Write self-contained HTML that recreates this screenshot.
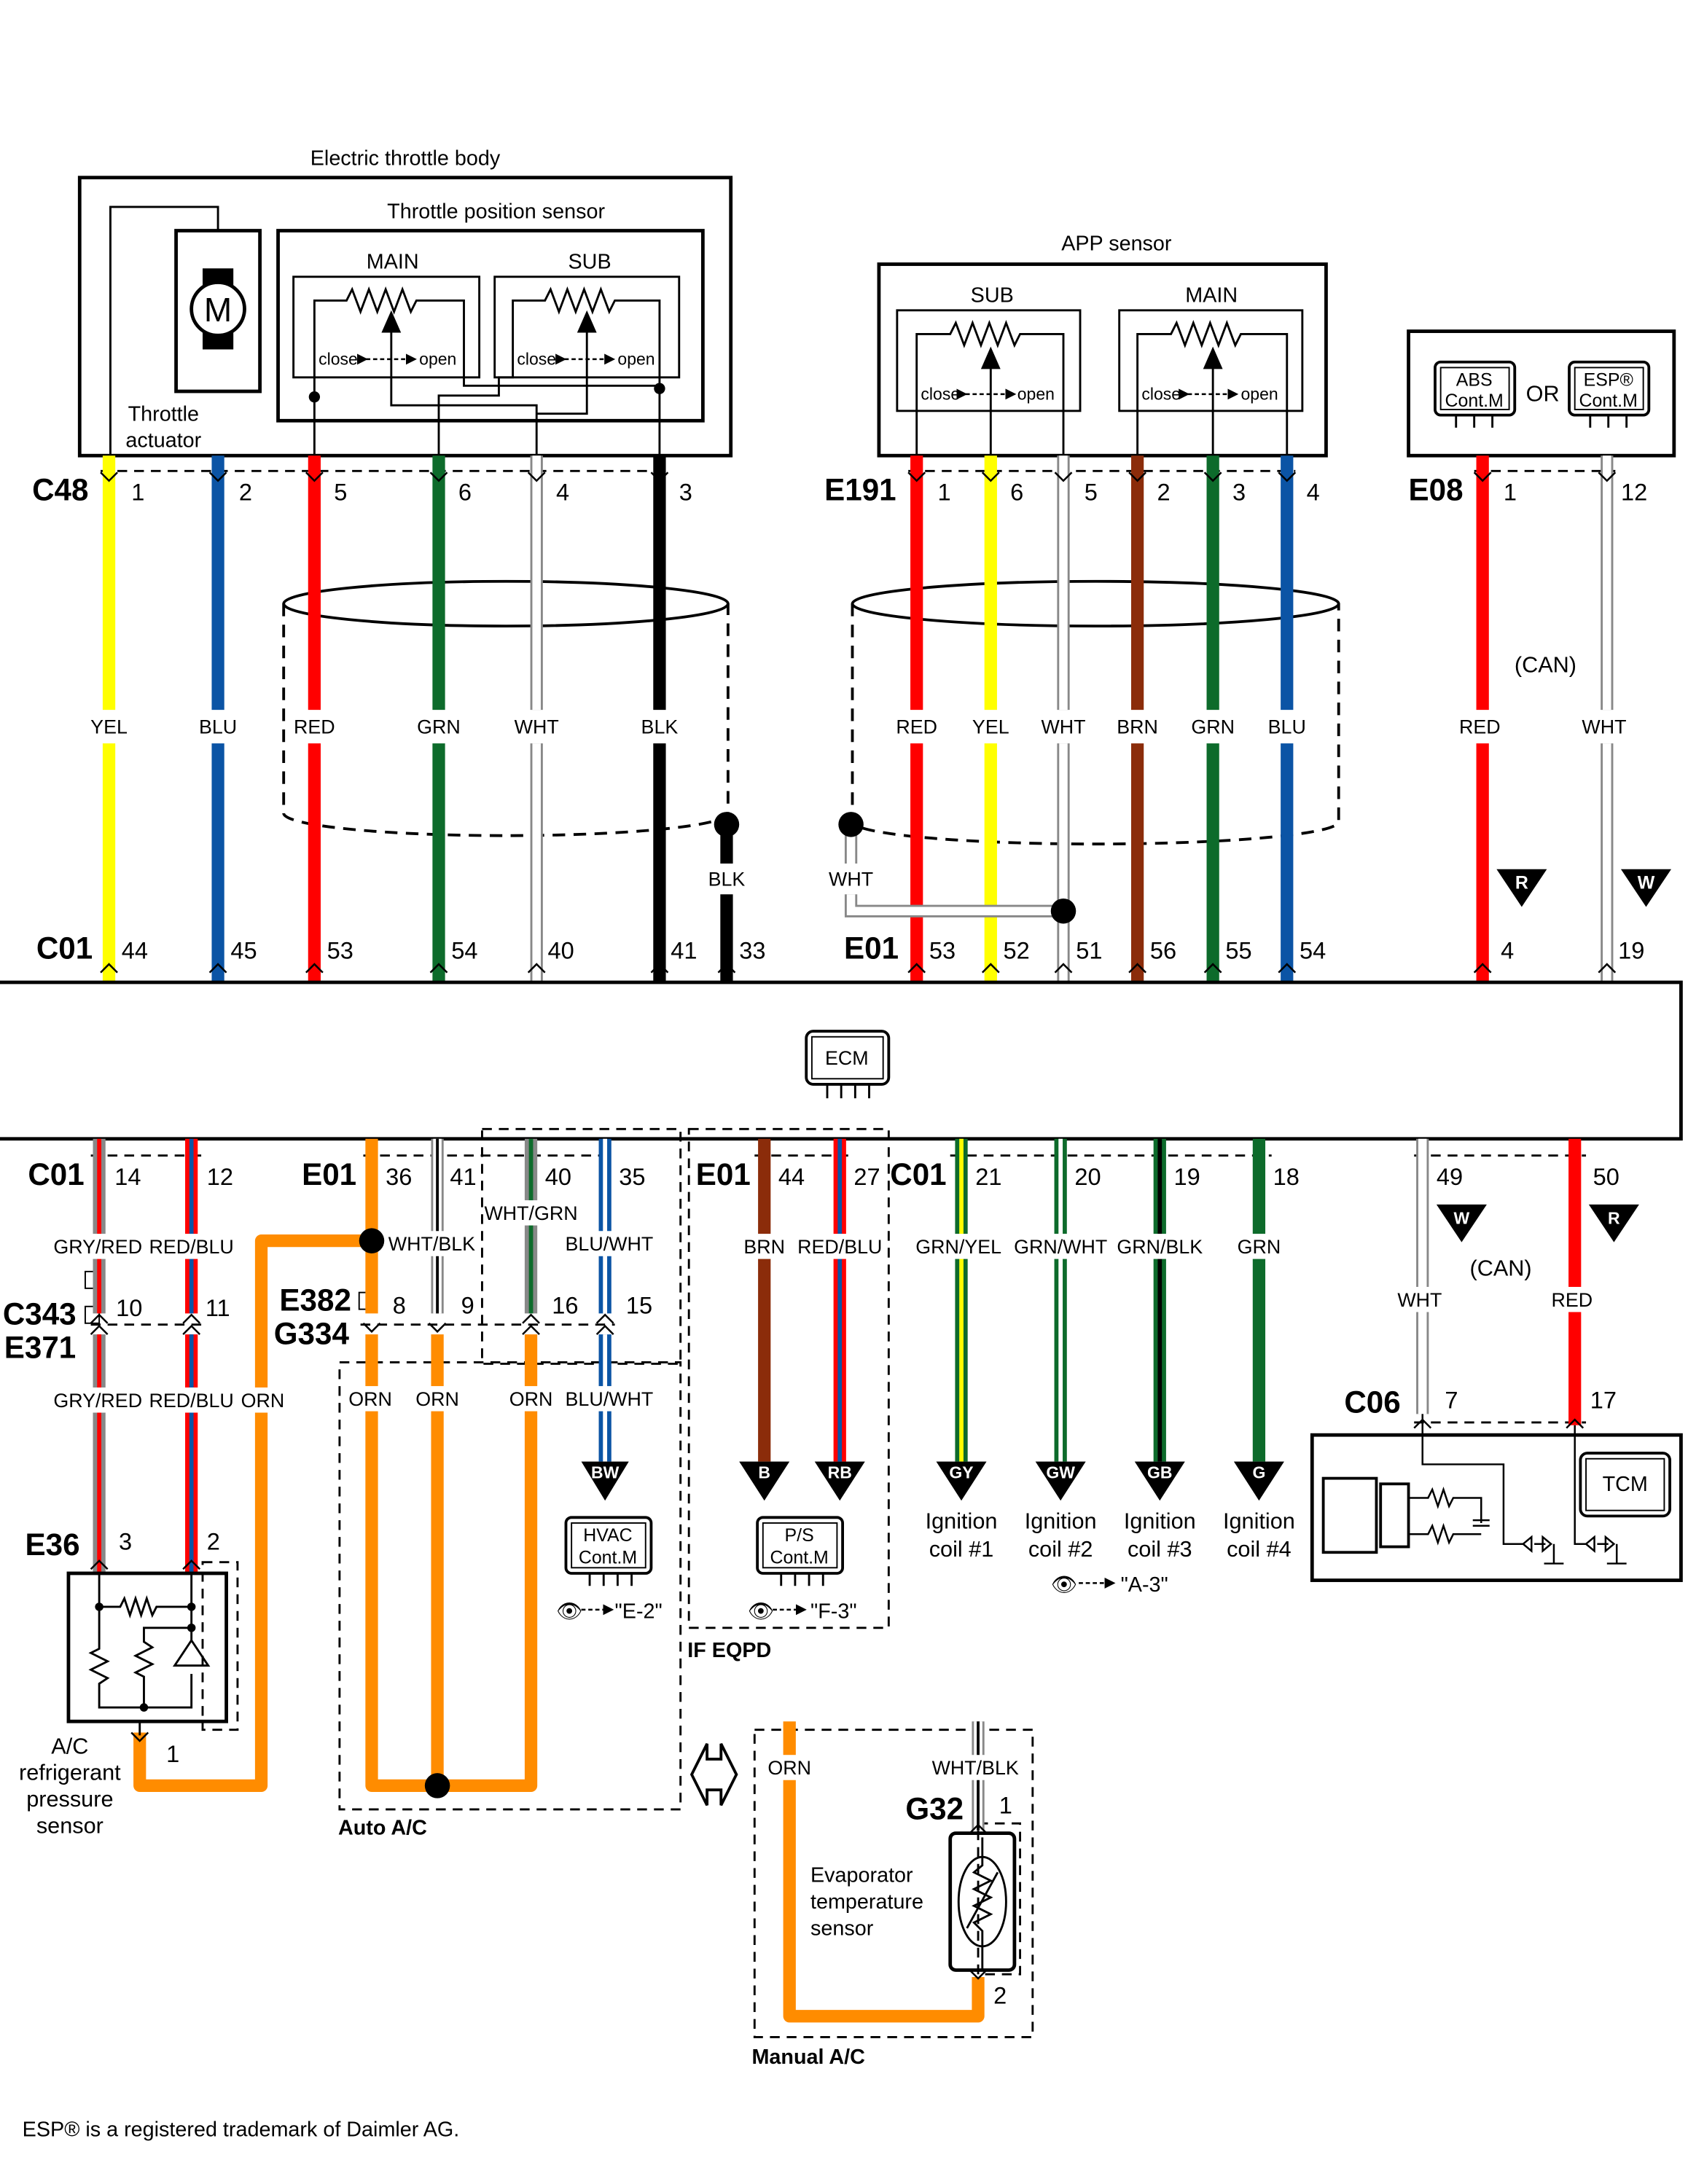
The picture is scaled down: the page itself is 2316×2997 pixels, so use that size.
<!DOCTYPE html>
<html><head><meta charset="utf-8"><style>
html,body{margin:0;padding:0;background:#fff}
svg{display:block}
text{font-family:"Liberation Sans",Arial,sans-serif;fill:#000}
</style></head><body>
<svg width="2316" height="2997" viewBox="0 0 1208 1563" xmlns="http://www.w3.org/2000/svg">
<defs>
<marker id="ah" markerWidth="6" markerHeight="6" refX="5" refY="3" orient="auto"><path d="M0,0 L6,3 L0,6z" fill="#000"/></marker>
</defs>
<g font-size="15">
<text x="290" y="118" text-anchor="middle">Electric throttle body</text>
<rect x="57" y="127" width="466" height="199" fill="none" stroke="#000" stroke-width="2.5"/>
<rect x="126" y="165" width="60" height="115" fill="none" stroke="#000" stroke-width="2.5"/>
<rect x="145" y="192" width="22" height="58" fill="#000"/>
<circle cx="156" cy="221" r="19" fill="#fff" stroke="#000" stroke-width="2.5"/>
<text x="156" y="230" font-size="24" text-anchor="middle">M</text>
<polyline points="156,165 156,148 79,148 79,326" fill="none" stroke="#000" stroke-width="1.5"/>
<text x="117" y="301" text-anchor="middle">Throttle</text>
<text x="117" y="320" text-anchor="middle">actuator</text>
<rect x="199" y="165" width="304" height="136" fill="none" stroke="#000" stroke-width="2.5"/>
<text x="355" y="156" text-anchor="middle">Throttle position sensor</text>
<text x="281" y="192" text-anchor="middle">MAIN</text>
<text x="422" y="192" text-anchor="middle">SUB</text>
<rect x="210" y="198" width="133" height="72" fill="none" stroke="#000" stroke-width="1.5"/>
<rect x="354" y="198" width="132" height="72" fill="none" stroke="#000" stroke-width="1.5"/>
<g fill="none" stroke="#000" stroke-width="1.5">
<polyline points="225,283 225,215 248,215 252,207 258,223 264,207 270,223 276,207 282,223 288,207 294,223 298,215 332,215 332,276 472,276"/>
<polyline points="367,226 367,215 390,215 394,207 400,223 406,207 412,223 418,207 424,223 430,207 436,223 440,215 472,215 472,278"/>
<polyline points="280,238 280,290 384,290 384,326"/>
<polyline points="420,238 420,296 384,296"/>
<polyline points="225,283 225,326"/><polyline points="472,278 472,326"/>
<polyline points="314,326 314,283 357,283 357,270 367,270 367,226"/>
</g>
<path d="M280,222 l-7,16 h14z M420,222 l-7,16 h14z" fill="#000"/>
<circle cx="225" cy="284" r="4" fill="#000"/><circle cx="472" cy="278" r="4" fill="#000"/>
<g font-size="12"><text x="228" y="261">close</text><text x="300" y="261">open</text>
<text x="370" y="261">close</text><text x="442" y="261">open</text></g>
<g stroke="#000" stroke-width="1.3" stroke-dasharray="3,2"><line x1="262" y1="257" x2="297" y2="257" marker-start="url(#ah)" marker-end="url(#ah)"/><line x1="404" y1="257" x2="439" y2="257" marker-start="url(#ah)" marker-end="url(#ah)"/></g>

<text x="799" y="179" text-anchor="middle">APP sensor</text>
<rect x="629" y="189" width="320" height="137" fill="none" stroke="#000" stroke-width="2.5"/>
<text x="710" y="216" text-anchor="middle">SUB</text>
<text x="867" y="216" text-anchor="middle">MAIN</text>
<rect x="642" y="222" width="131" height="72" fill="none" stroke="#000" stroke-width="1.5"/>
<rect x="801" y="222" width="131" height="72" fill="none" stroke="#000" stroke-width="1.5"/>
<g fill="none" stroke="#000" stroke-width="1.5">
<polyline points="656,326 656,239 680,239 684,231 690,247 696,231 702,247 708,231 714,247 720,231 726,247 730,239 761,239 761,326"/>
<polyline points="814,326 814,239 838,239 842,231 848,247 854,231 860,247 866,231 872,247 878,231 884,247 888,239 921,239 921,326"/>
<line x1="709" y1="262" x2="709" y2="326"/><line x1="868" y1="262" x2="868" y2="326"/>
</g>
<path d="M709,248 l-7,16 h14z M868,248 l-7,16 h14z" fill="#000"/>
<g font-size="12"><text x="659" y="286">close</text><text x="728" y="286">open</text>
<text x="817" y="286">close</text><text x="888" y="286">open</text></g>
<g stroke="#000" stroke-width="1.3" stroke-dasharray="3,2"><line x1="691" y1="282" x2="726" y2="282" marker-start="url(#ah)" marker-end="url(#ah)"/><line x1="850" y1="282" x2="885" y2="282" marker-start="url(#ah)" marker-end="url(#ah)"/></g>

<rect x="1008" y="237" width="190" height="89" fill="none" stroke="#000" stroke-width="2.5"/>
<rect x="1027" y="259" width="57" height="38" rx="4" fill="#fff" stroke="#000" stroke-width="2"/>
<rect x="1031" y="263" width="49" height="30" fill="none" stroke="#000" stroke-width="1"/>
<text x="1055" y="276" font-size="13" text-anchor="middle">ABS</text><text x="1055" y="291" font-size="13" text-anchor="middle">Cont.M</text>
<rect x="1123" y="259" width="57" height="38" rx="4" fill="#fff" stroke="#000" stroke-width="2"/>
<rect x="1127" y="263" width="49" height="30" fill="none" stroke="#000" stroke-width="1"/>
<text x="1151" y="276" font-size="13" text-anchor="middle">ESP®</text><text x="1151" y="291" font-size="13" text-anchor="middle">Cont.M</text>
<text x="1104" y="287" font-size="16" text-anchor="middle">OR</text>
<g stroke="#000" stroke-width="1.5"><line x1="1042" y1="297" x2="1042" y2="306"/><line x1="1055" y1="297" x2="1055" y2="306"/><line x1="1068" y1="297" x2="1068" y2="306"/><line x1="1138" y1="297" x2="1138" y2="306"/><line x1="1151" y1="297" x2="1151" y2="306"/><line x1="1164" y1="297" x2="1164" y2="306"/></g>

<g fill="none" stroke="#000" stroke-width="1.5" stroke-dasharray="7,5">
<line x1="72" y1="337" x2="480" y2="337"/><line x1="650" y1="337" x2="927" y2="337"/><line x1="1055" y1="337" x2="1156" y2="337"/>
</g>
<g font-size="22" font-weight="bold"><text x="23" y="358">C48</text><text x="590" y="358">E191</text><text x="1008" y="358">E08</text></g>
<g font-size="17">
<text x="94" y="358">1</text><text x="171" y="358">2</text><text x="239" y="358">5</text><text x="328" y="358">6</text><text x="398" y="358">4</text><text x="486" y="358">3</text>
<text x="671" y="358">1</text><text x="723" y="358">6</text><text x="776" y="358">5</text><text x="828" y="358">2</text><text x="882" y="358">3</text><text x="935" y="358">4</text>
<text x="1076" y="358">1</text><text x="1160" y="358">12</text>
</g>

<g fill="none" stroke="#000" stroke-width="2">
<ellipse cx="362" cy="432" rx="159" ry="16"/>
<path d="M203,432 V582 A159,16 0 0 0 521,582 V432" stroke-dasharray="9,6"/>
<ellipse cx="784" cy="432" rx="174" ry="16"/>
<path d="M610,432 V588 A174,16 0 0 0 958,588 V432" stroke-dasharray="9,6"/>
</g>

<g stroke-width="9" fill="none">
<path d="M78,326 V508 M78,532 V703" stroke="#ffff00"/>
<path d="M156,326 V508 M156,532 V703" stroke="#0b54a5"/>
<path d="M225,326 V508 M225,532 V703" stroke="#ff0000"/>
<path d="M314,326 V508 M314,532 V703" stroke="#0d6b2b"/>
<path d="M472,326 V508 M472,532 V703" stroke="#000"/>
<path d="M520,590 V618 M520,640 V703" stroke="#000"/>
<path d="M656,326 V508 M656,532 V703" stroke="#ff0000"/>
<path d="M709,326 V508 M709,532 V703" stroke="#ffff00"/>
<path d="M814,326 V508 M814,532 V703" stroke="#8b2c0a"/>
<path d="M868,326 V508 M868,532 V703" stroke="#0d6b2b"/>
<path d="M921,326 V508 M921,532 V703" stroke="#0b54a5"/>
<path d="M1061,326 V508 M1061,532 V703" stroke="#ff0000"/>
<path d="M384,326 V508 M384,532 V703 M761,326 V508 M761,532 V703 M1150,326 V508 M1150,532 V703" stroke="#888"/>
<path d="M609,590 V618 M609,640 V652 H761" stroke="#888"/>
</g>
<g stroke-width="6" fill="none" stroke="#fff">
<path d="M384,326 V508 M384,532 V703 M761,326 V508 M761,532 V703 M1150,326 V508 M1150,532 V703"/>
<path d="M609,590 V618 M609,640 V652 H761"/>
</g>
<circle cx="520" cy="590" r="9" fill="#000"/><circle cx="609" cy="590" r="9" fill="#000"/><circle cx="761" cy="652" r="9" fill="#000"/>
<g font-size="14" text-anchor="middle">
<text x="78" y="525">YEL</text><text x="156" y="525">BLU</text><text x="225" y="525">RED</text><text x="314" y="525">GRN</text><text x="384" y="525">WHT</text><text x="472" y="525">BLK</text>
<text x="656" y="525">RED</text><text x="709" y="525">YEL</text><text x="761" y="525">WHT</text><text x="814" y="525">BRN</text><text x="868" y="525">GRN</text><text x="921" y="525">BLU</text>
<text x="1059" y="525">RED</text><text x="1148" y="525">WHT</text>
<text x="520" y="634">BLK</text><text x="609" y="634">WHT</text>
<text x="1106" y="481" font-size="16">(CAN)</text>
</g>
<path d="M1071,622 h36 l-18,27z M1160,622 h36 l-18,27z" fill="#000"/>
<text x="1089" y="636" font-size="13" font-weight="bold" text-anchor="middle" style="fill:#fff">R</text>
<text x="1178" y="636" font-size="13" font-weight="bold" text-anchor="middle" style="fill:#fff">W</text>

<g font-size="22" font-weight="bold"><text x="26" y="686">C01</text><text x="604" y="686">E01</text></g>
<g font-size="17">
<text x="87" y="686">44</text><text x="165" y="686">45</text><text x="234" y="686">53</text><text x="323" y="686">54</text><text x="392" y="686">40</text><text x="480" y="686">41</text><text x="529" y="686">33</text>
<text x="665" y="686">53</text><text x="718" y="686">52</text><text x="770" y="686">51</text><text x="823" y="686">56</text><text x="877" y="686">55</text><text x="930" y="686">54</text>
<text x="1074" y="686">4</text><text x="1158" y="686">19</text>
</g>

<polyline points="0,703 1203,703 1203,815 0,815" fill="none" stroke="#000" stroke-width="2.5"/>
<rect x="577" y="738" width="59" height="38" rx="5" fill="#fff" stroke="#000" stroke-width="2"/>
<rect x="581" y="742" width="51" height="30" fill="none" stroke="#000" stroke-width="1"/>
<text x="606" y="762" font-size="14" text-anchor="middle">ECM</text>
<g stroke="#000" stroke-width="1.5"><line x1="592" y1="776" x2="592" y2="786"/><line x1="602" y1="776" x2="602" y2="786"/><line x1="612" y1="776" x2="612" y2="786"/><line x1="622" y1="776" x2="622" y2="786"/></g>

<g fill="none" stroke="#000" stroke-width="1.5" stroke-dasharray="7,5">
<line x1="65" y1="827" x2="145" y2="827"/><line x1="260" y1="827" x2="440" y2="827"/><line x1="540" y1="827" x2="608" y2="827"/>
<line x1="680" y1="827" x2="910" y2="827"/><line x1="1012" y1="827" x2="1135" y2="827"/>
<line x1="65" y1="948" x2="145" y2="948"/><line x1="258" y1="948" x2="440" y2="948"/>
<rect x="345" y="808" width="142" height="168"/>
<rect x="243" y="975" width="244" height="320"/>
<rect x="493" y="808" width="143" height="357"/>
<rect x="540" y="1238" width="199" height="220"/>
<line x1="1012" y1="1018" x2="1135" y2="1018"/>
<rect x="145" y="1118" width="25" height="120"/>
<rect x="700" y="1305" width="30" height="108"/>
</g>
<g font-size="22" font-weight="bold">
<text x="20" y="848">C01</text><text x="216" y="848">E01</text><text x="498" y="848">E01</text><text x="637" y="848">C01</text>
<text x="2" y="948">C343</text><text x="3" y="972">E371</text><text x="200" y="938">E382</text><text x="196" y="962">G334</text>
<text x="18" y="1113">E36</text><text x="962" y="1011">C06</text><text x="648" y="1302">G32</text>
</g>
<g font-size="17">
<text x="82" y="848">14</text><text x="148" y="848">12</text><text x="276" y="848">36</text><text x="322" y="848">41</text><text x="390" y="848">40</text><text x="443" y="848">35</text>
<text x="557" y="848">44</text><text x="611" y="848">27</text><text x="698" y="848">21</text><text x="769" y="848">20</text><text x="840" y="848">19</text><text x="911" y="848">18</text>
<text x="1028" y="848">49</text><text x="1140" y="848">50</text>
<text x="83" y="942">10</text><text x="147" y="942">11</text><text x="281" y="940">8</text><text x="330" y="940">9</text><text x="395" y="940">16</text><text x="448" y="940">15</text>
<text x="85" y="1109">3</text><text x="148" y="1109">2</text><text x="119" y="1261">1</text>
<text x="1034" y="1008">7</text><text x="1138" y="1008">17</text><text x="715" y="1298">1</text><text x="711" y="1434">2</text>
</g>
<rect x="61" y="910" width="10" height="12" fill="#fff" stroke="#000"/><rect x="61" y="935" width="10" height="12" fill="#fff" stroke="#000"/>
<rect x="257" y="925" width="10" height="12" fill="#fff" stroke="#000"/>

<g fill="none" stroke-width="9">
<path d="M71,815 V940 M71,955 V1126" stroke="#888"/>
<path d="M137,815 V940 M137,955 V1126" stroke="#ff0000"/>
<path d="M433,815 V940 M433,955 V1046" stroke="#0b54a5"/>
<path d="M547,815 V1046" stroke="#8b2c0a"/>
<path d="M601,815 V1046" stroke="#ff0000"/>
<path d="M688,815 V1046 M759,815 V1046 M830,815 V1046 M901,815 V1046" stroke="#0d6b2b"/>
<path d="M1127,815 V1020" stroke="#ff0000"/>
<path d="M1018,815 V1012 M313,815 V940 M380,815 V940 M700,1232 V1310" stroke="#888"/>
</g>
<g fill="none" stroke-width="9" stroke="#ff8c00" stroke-linejoin="round">
<path d="M100,1240 V1278 H187 V888 H266"/>
<path d="M266,815 V940 M266,955 V1278 H380 V955"/>
<path d="M313,955 V1278"/>
<path d="M565,1232 V1443 H700 V1415"/>
</g>
<g fill="none" stroke-width="3">
<path d="M71,815 V940 M71,955 V1126" stroke="#ff0000"/>
<path d="M137,815 V940 M137,955 V1126" stroke="#0b54a5"/>
<path d="M433,815 V940 M433,955 V1046" stroke="#fff"/>
<path d="M601,815 V1046" stroke="#0b54a5"/>
<path d="M688,815 V1046" stroke="#ffff00"/>
<path d="M759,815 V1046" stroke="#fff"/>
<path d="M830,815 V1046" stroke="#000"/>
<path d="M380,815 V940" stroke="#0d6b2b"/>
</g>
<g fill="none" stroke-width="6" stroke="#fff"><path d="M1018,815 V1012 M313,815 V940 M700,1232 V1310"/></g>
<g fill="none" stroke-width="2" stroke="#000"><path d="M313,815 V940 M700,1232 V1310"/></g>
<circle cx="266" cy="888" r="9" fill="#000"/><circle cx="313" cy="1278" r="9" fill="#000"/>

<!-- white label backgrounds -->
<g fill="#fff">
<rect x="40" y="883" width="60" height="18"/><rect x="107" y="883" width="60" height="18"/>
<rect x="280" y="881" width="60" height="18"/><rect x="349" y="859" width="64" height="18"/><rect x="406" y="881" width="60" height="18"/>
<rect x="533" y="883" width="30" height="18"/><rect x="571" y="883" width="60" height="18"/>
<rect x="656" y="883" width="62" height="18"/><rect x="728" y="883" width="62" height="18"/><rect x="799" y="883" width="62" height="18"/><rect x="886" y="883" width="30" height="18"/>
<rect x="1001" y="921" width="30" height="18"/><rect x="1110" y="921" width="30" height="18"/>
<rect x="40" y="993" width="60" height="18"/><rect x="107" y="993" width="60" height="18"/><rect x="173" y="993" width="30" height="18"/>
<rect x="250" y="992" width="30" height="18"/><rect x="298" y="992" width="30" height="18"/><rect x="365" y="992" width="30" height="18"/><rect x="406" y="992" width="60" height="18"/>
<rect x="550" y="1256" width="30" height="18"/><rect x="668" y="1256" width="60" height="18"/>
</g>
<g font-size="14" text-anchor="middle">
<text x="70" y="897">GRY/RED</text><text x="137" y="897">RED/BLU</text><text x="309" y="895">WHT/BLK</text><text x="380" y="873">WHT/GRN</text><text x="436" y="895">BLU/WHT</text>
<text x="547" y="897">BRN</text><text x="601" y="897">RED/BLU</text><text x="686" y="897">GRN/YEL</text><text x="759" y="897">GRN/WHT</text><text x="830" y="897">GRN/BLK</text><text x="901" y="897">GRN</text>
<text x="1016" y="935">WHT</text><text x="1125" y="935">RED</text><text x="1074" y="913" font-size="16">(CAN)</text>
<text x="70" y="1007">GRY/RED</text><text x="137" y="1007">RED/BLU</text><text x="188" y="1007">ORN</text>
<text x="265" y="1006">ORN</text><text x="313" y="1006">ORN</text><text x="380" y="1006">ORN</text><text x="436" y="1006">BLU/WHT</text>
<text x="565" y="1270">ORN</text><text x="698" y="1270">WHT/BLK</text>
</g>
<g fill="#000">
<path d="M416,1046 h34 l-17,28z M529,1046 h36 l-18,28z M583,1046 h36 l-18,28z M670,1046 h36 l-18,28z M741,1046 h36 l-18,28z M812,1046 h36 l-18,28z M883,1046 h36 l-18,28z"/>
<path d="M1028,862 h36 l-18,27z M1137,862 h36 l-18,27z"/>
</g>
<g font-size="12" font-weight="bold" text-anchor="middle">
<text x="433" y="1058" style="fill:#fff">BW</text><text x="547" y="1058" style="fill:#fff">B</text><text x="601" y="1058" style="fill:#fff">RB</text>
<text x="688" y="1058" style="fill:#fff">GY</text><text x="759" y="1058" style="fill:#fff">GW</text><text x="830" y="1058" style="fill:#fff">GB</text><text x="901" y="1058" style="fill:#fff">G</text>
<text x="1046" y="876" style="fill:#fff">W</text><text x="1155" y="876" style="fill:#fff">R</text>
</g>
<g font-size="16" text-anchor="middle">
<text x="688" y="1094">Ignition</text><text x="688" y="1114">coil #1</text>
<text x="759" y="1094">Ignition</text><text x="759" y="1114">coil #2</text>
<text x="830" y="1094">Ignition</text><text x="830" y="1114">coil #3</text>
<text x="901" y="1094">Ignition</text><text x="901" y="1114">coil #4</text>
<text x="50" y="1255">A/C</text><text x="50" y="1274">refrigerant</text><text x="50" y="1293">pressure</text><text x="50" y="1312">sensor</text>
</g>
<g font-size="15"><text x="580" y="1347">Evaporator</text><text x="580" y="1366">temperature</text><text x="580" y="1385">sensor</text>
<text x="16" y="1529">ESP® is a registered trademark of Daimler AG.</text></g>
<g font-size="15" font-weight="bold"><text x="242" y="1313">Auto A/C</text><text x="492" y="1186">IF EQPD</text><text x="538" y="1477">Manual A/C</text></g>

<rect x="405" y="1086" width="61" height="40" rx="4" fill="#fff" stroke="#000" stroke-width="2"/>
<rect x="409" y="1090" width="53" height="32" fill="none" stroke="#000"/>
<text x="435" y="1103" font-size="13" text-anchor="middle">HVAC</text><text x="435" y="1119" font-size="13" text-anchor="middle">Cont.M</text>
<rect x="542" y="1086" width="61" height="40" rx="4" fill="#fff" stroke="#000" stroke-width="2"/>
<rect x="546" y="1090" width="53" height="32" fill="none" stroke="#000"/>
<text x="572" y="1103" font-size="13" text-anchor="middle">P/S</text><text x="572" y="1119" font-size="13" text-anchor="middle">Cont.M</text>
<g stroke="#000" stroke-width="1.5"><line x1="422" y1="1126" x2="422" y2="1135"/><line x1="432" y1="1126" x2="432" y2="1135"/><line x1="442" y1="1126" x2="442" y2="1135"/><line x1="452" y1="1126" x2="452" y2="1135"/>
<line x1="559" y1="1126" x2="559" y2="1135"/><line x1="569" y1="1126" x2="569" y2="1135"/><line x1="579" y1="1126" x2="579" y2="1135"/><line x1="589" y1="1126" x2="589" y2="1135"/></g>
<g font-size="15"><text x="398" y="1158">👁</text><text x="440" y="1158">"E-2"</text><text x="535" y="1158">👁</text><text x="580" y="1158">"F-3"</text><text x="752" y="1139">👁</text><text x="802" y="1139">"A-3"</text></g>
<g stroke="#000" stroke-width="1.3" stroke-dasharray="3,2"><line x1="416" y1="1152" x2="438" y2="1152" marker-end="url(#ah)"/><line x1="553" y1="1152" x2="576" y2="1152" marker-end="url(#ah)"/><line x1="772" y1="1133" x2="797" y2="1133" marker-end="url(#ah)"/></g>

<rect x="49" y="1126" width="113" height="106" fill="none" stroke="#000" stroke-width="2.5"/>
<g fill="none" stroke="#000" stroke-width="1.5">
<polyline points="71,1126 71,1150 86,1150 89,1144 93,1156 97,1144 101,1156 105,1144 109,1156 112,1150 137,1150 137,1126"/>
<polyline points="71,1150 71,1180 65,1183 77,1189 65,1195 77,1201 71,1205 71,1222 137,1222 137,1198"/>
<polyline points="103,1222 103,1200 97,1197 109,1191 97,1185 109,1179 103,1175 103,1165 137,1165 137,1150"/>
<path d="M125,1192 l12,-18 l12,18z M125,1192 h24 M137,1165 V1174"/>
<line x1="100" y1="1232" x2="100" y2="1242"/>
</g>
<circle cx="71" cy="1150" r="3" fill="#000"/><circle cx="137" cy="1150" r="3" fill="#000"/><circle cx="103" cy="1222" r="3" fill="#000"/><circle cx="137" cy="1165" r="3" fill="#000"/>

<rect x="939" y="1027" width="264" height="104" fill="none" stroke="#000" stroke-width="2.5"/>
<rect x="1131" y="1040" width="64" height="45" rx="5" fill="#fff" stroke="#000" stroke-width="2"/>
<rect x="1135" y="1044" width="56" height="37" fill="none" stroke="#000"/>
<text x="1163" y="1067" font-size="15" text-anchor="middle">TCM</text>
<rect x="947" y="1058" width="38" height="53" fill="none" stroke="#000" stroke-width="2"/>
<rect x="988" y="1062" width="20" height="45" fill="none" stroke="#000" stroke-width="2"/>
<g fill="none" stroke="#000" stroke-width="1.3">
<polyline points="1018,1012 1018,1048 1076,1048 1076,1105 1090,1105"/>
<polyline points="1127,1020 1127,1105 1135,1105"/>
<polyline points="1008,1072 1022,1072 1025,1066 1029,1078 1033,1066 1037,1078 1040,1072 1060,1072 1060,1090"/>
<polyline points="1008,1098 1022,1098 1025,1092 1029,1104 1033,1092 1037,1104 1040,1098 1060,1098"/>
<line x1="1054" y1="1088" x2="1066" y2="1088"/><line x1="1054" y1="1092" x2="1066" y2="1092"/>
<path d="M1090,1105 l6,-5 v10z M1098,1105 h8 M1110,1105 l-6,-5 v10z M1112,1105 v14 M1105,1119 h14"/>
<path d="M1135,1105 l6,-5 v10z M1143,1105 h8 M1155,1105 l-6,-5 v10z M1157,1105 v14 M1150,1119 h14"/>
</g>

<rect x="680" y="1312" width="46" height="98" rx="4" fill="none" stroke="#000" stroke-width="2.5"/>
<ellipse cx="703" cy="1361" rx="17" ry="32" fill="none" stroke="#000" stroke-width="1.5"/>
<polyline points="703,1315 703,1335 697,1340 709,1346 697,1352 709,1358 697,1364 709,1370 697,1376 703,1382 703,1410" fill="none" stroke="#000" stroke-width="1.5"/>
<line x1="692" y1="1380" x2="714" y2="1340" stroke="#000" stroke-width="1.5"/>

<path d="M495,1270 l11,-22 v11 h10 v-11 l11,22 l-11,22 v-11 h-10 v11z" fill="#fff" stroke="#000" stroke-width="2"/>

<g fill="none" stroke="#000" stroke-width="1.3">
<path d="M72,338 l6,6 l6,-6 M150,338 l6,6 l6,-6 M219,338 l6,6 l6,-6 M308,338 l6,6 l6,-6 M378,338 l6,6 l6,-6 M466,338 l6,6 l6,-6 M650,338 l6,6 l6,-6 M703,338 l6,6 l6,-6 M755,338 l6,6 l6,-6 M808,338 l6,6 l6,-6 M862,338 l6,6 l6,-6 M915,338 l6,6 l6,-6 M1055,338 l6,6 l6,-6 M1144,338 l6,6 l6,-6"/>
<path d="M72,696 l6,-6 l6,6 M150,696 l6,-6 l6,6 M219,696 l6,-6 l6,6 M308,696 l6,-6 l6,6 M378,696 l6,-6 l6,6 M466,696 l6,-6 l6,6 M514,696 l6,-6 l6,6 M650,696 l6,-6 l6,6 M703,696 l6,-6 l6,6 M755,696 l6,-6 l6,6 M808,696 l6,-6 l6,6 M862,696 l6,-6 l6,6 M915,696 l6,-6 l6,6 M1055,696 l6,-6 l6,6 M1144,696 l6,-6 l6,6"/>
<path d="M65,947 l6,-6 l6,6 M65,955 l6,-6 l6,6 M131,947 l6,-6 l6,6 M131,955 l6,-6 l6,6 M260,947 l6,6 l6,-6 M307,947 l6,6 l6,-6 M374,947 l6,-6 l6,6 M374,955 l6,-6 l6,6 M427,947 l6,-6 l6,6 M427,955 l6,-6 l6,6"/>
<path d="M65,1123 l6,-6 l6,6 M131,1123 l6,-6 l6,6 M94,1240 l6,6 l6,-6 M1012,1022 l6,-6 l6,6 M1121,1022 l6,-6 l6,6 M694,1312 l6,-6 l6,6 M694,1410 l6,6 l6,-6"/>
</g>
</g>
</svg>
</body></html>
